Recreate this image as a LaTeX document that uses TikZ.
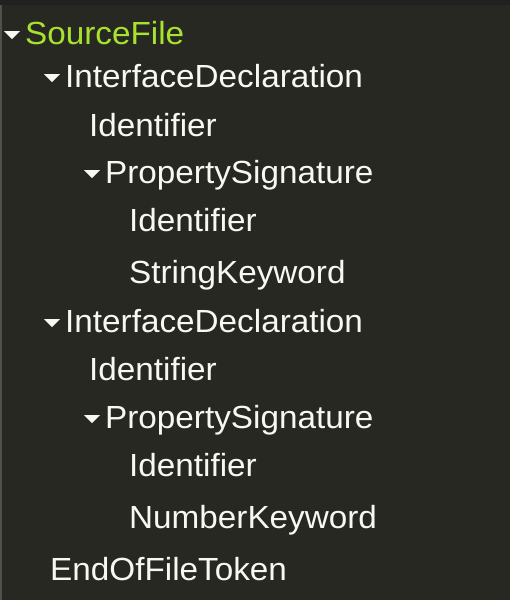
\documentclass[tikz,border=0pt]{standalone}
\usepackage{fontspec}
\setmainfont{Liberation Sans}[FakeStretch=1.04]
\definecolor{bgc}{HTML}{272822}
\definecolor{topc}{HTML}{212121}
\definecolor{edgec}{HTML}{505050}
\definecolor{txt}{HTML}{F8F8F2}
\definecolor{grn}{HTML}{A6E22E}
\tikzset{
  item/.style={anchor=base west, inner sep=0pt, text=txt, font=\fontsize{32}{36}\selectfont},
  rootitem/.style={item, text=grn},
  tri/.style={fill=txt, draw=none}
}
\newcommand{\opentri}[1]{\fill[tri] ([xshift=-21pt,yshift=13pt]#1.base west) -- ++(16pt,0) -- ++(-8pt,-8pt) -- cycle;}
\begin{document}
\begin{tikzpicture}[x=1pt,y=-1pt]
\useasboundingbox (0,0) rectangle (510,600);
\fill[bgc] (0,0) rectangle (510,600);
\fill[topc] (0,0) rectangle (510,5);
\fill[edgec] (0,5) rectangle (2,600);
\node[rootitem] (sf) at (25,44) {SourceFile};
\node[item] (id1) at (65,87) {InterfaceDeclaration};
\node[item] (i1) at (89,136) {Identifier};
\node[item] (ps1) at (105,183) {PropertySignature};
\node[item] (i2) at (129,231) {Identifier};
\node[item] (sk) at (129,283) {StringKeyword};
\node[item] (id2) at (65,332) {InterfaceDeclaration};
\node[item] (i3) at (89,380) {Identifier};
\node[item] (ps2) at (105,428) {PropertySignature};
\node[item] (i4) at (129,476) {Identifier};
\node[item] (nk) at (129,528) {NumberKeyword};
\node[item] (eof) at (50,580) {EndOfFileToken};
\opentri{sf}
\opentri{id1}
\opentri{ps1}
\opentri{id2}
\opentri{ps2}
\end{tikzpicture}
\end{document}
